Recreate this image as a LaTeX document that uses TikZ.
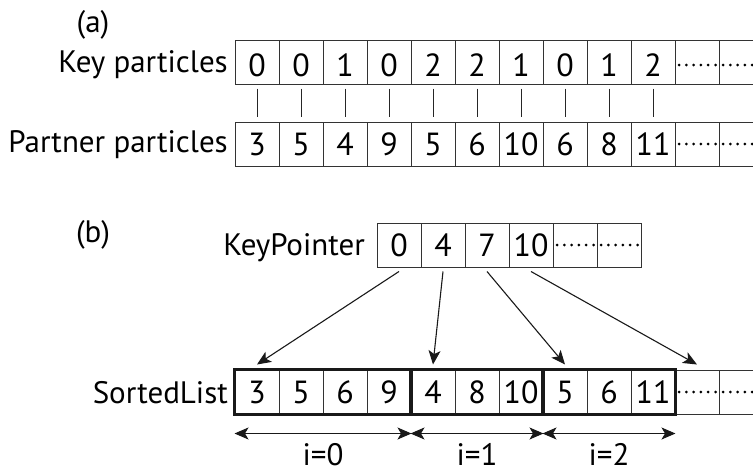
\documentclass[tikz,border=0pt]{standalone}
\usepackage{fontspec}
\setmainfont{PT Sans}
\usetikzlibrary{arrows.meta}
\begin{document}
\begin{tikzpicture}[x=1pt,y=-1pt,
  cell/.style={draw=black!80, line width=1pt, minimum width=44pt, minimum height=44pt,
    inner sep=0pt, font=\fontsize{32}{32}\selectfont},
  keycell/.style={cell, text height=28pt, text depth=0pt},
  dots/.style={draw=black, line width=3pt, line cap=round, dash pattern=on 0pt off 7.3pt},
  lbl/.style={anchor=base east, inner sep=0pt, font=\fontsize{31}{31}\selectfont},
  tag/.style={anchor=base, inner sep=0pt, font=\fontsize{31}{31}\selectfont},
  link/.style={draw=black!85, line width=1pt},
  ptr/.style={draw=black!90, line width=1.1pt, -{Stealth[length=14pt,width=12pt,inset=3.5pt]}},
  span/.style={draw=black!90, line width=1.1pt, {Stealth[length=14pt,width=12pt,inset=3.5pt]}-{Stealth[length=14pt,width=12pt,inset=3.5pt]}},
  group/.style={draw=black!90, line width=2.4pt}]
\useasboundingbox (0,0) rectangle (753,474);

% (a)
\node[tag] (la) at (93,32) {(a)};
\node[lbl] (lk) at (228,72) {Key particles};
\node[lbl] (lp) at (228,152) {Partner particles};
\foreach \v [count=\i from 0] in {0,0,1,0,2,2,1,0,1,2}
  \node[keycell] (k\i) at (257+44*\i,62) {\v};
\node[cell] (k10) at (697,62) {};
\node[cell] (k11) at (741,62) {};
\foreach \v [count=\i from 0] in {3,5,4,9,5,6,10,6,8,11}
  \node[cell] (p\i) at (257+44*\i,144) {\v};
\node[cell] (p10) at (697,144) {};
\node[cell] (p11) at (741,144) {};
\foreach \n in {k10,k11}
  \draw[dots] ([xshift=4.5pt,yshift=-3pt]\n.west) -- ([xshift=-2pt,yshift=-3pt]\n.east);
\foreach \n in {p10,p11}
  \draw[dots] ([xshift=4.5pt]\n.west) -- ([xshift=-2pt]\n.east);
\foreach \i in {0,...,9}
  \draw[link] ([yshift=-4pt]k\i.south) -- ([yshift=5pt]p\i.north);

% (b)
\node[tag] (lb) at (93,242) {(b)};
\node[lbl] (lkp) at (365,255) {KeyPointer};
\foreach \v [count=\i from 0] in {0,4,7,10}
  \node[cell] (q\i) at (399+44*\i,245) {\v};
\node[cell] (q4) at (575,245) {};
\node[cell] (q5) at (619,245) {};
\foreach \n in {q4,q5}
  \draw[dots] ([xshift=4.5pt]\n.west) -- ([xshift=-2pt]\n.east);

\node[lbl] (ls) at (228,403) {SortedList};
\foreach \v [count=\i from 0] in {3,5,6,9,4,8,10,5,6,11}
  \node[cell] (s\i) at (257+44*\i,392) {\v};
\node[cell] (s10) at (697,392) {};
\node[cell] (s11) at (741,392) {};
\foreach \n in {s10,s11}
  \draw[dots] ([xshift=4.5pt]\n.west) -- ([xshift=-2pt]\n.east);
\draw[group] (s0.north west) rectangle (s3.south east);
\draw[group] (s4.north west) rectangle (s6.south east);
\draw[group] (s7.north west) rectangle (s9.south east);

\draw[ptr] ([yshift=-4pt]q0.south) -- ([yshift=5pt]s0.north);
\draw[ptr] ([yshift=-4pt]q1.south) -- ([yshift=5pt]s4.north);
\draw[ptr] ([yshift=-4pt]q2.south) -- ([yshift=5pt]s7.north);
\draw[ptr] ([yshift=-4pt]q3.south) -- ([yshift=5pt]s10.north);

\draw[span] ([yshift=-19pt]s0.south west) -- ([yshift=-19pt]s3.south east);
\draw[span] ([yshift=-19pt]s4.south west) -- ([yshift=-19pt]s6.south east);
\draw[span] ([yshift=-19pt]s7.south west) -- ([yshift=-19pt]s9.south east);
\node[tag] (i0) at (323,465) {i=0};
\node[tag] (i1) at (477,465) {i=1};
\node[tag] (i2) at (609,465) {i=2};
\end{tikzpicture}
\end{document}
